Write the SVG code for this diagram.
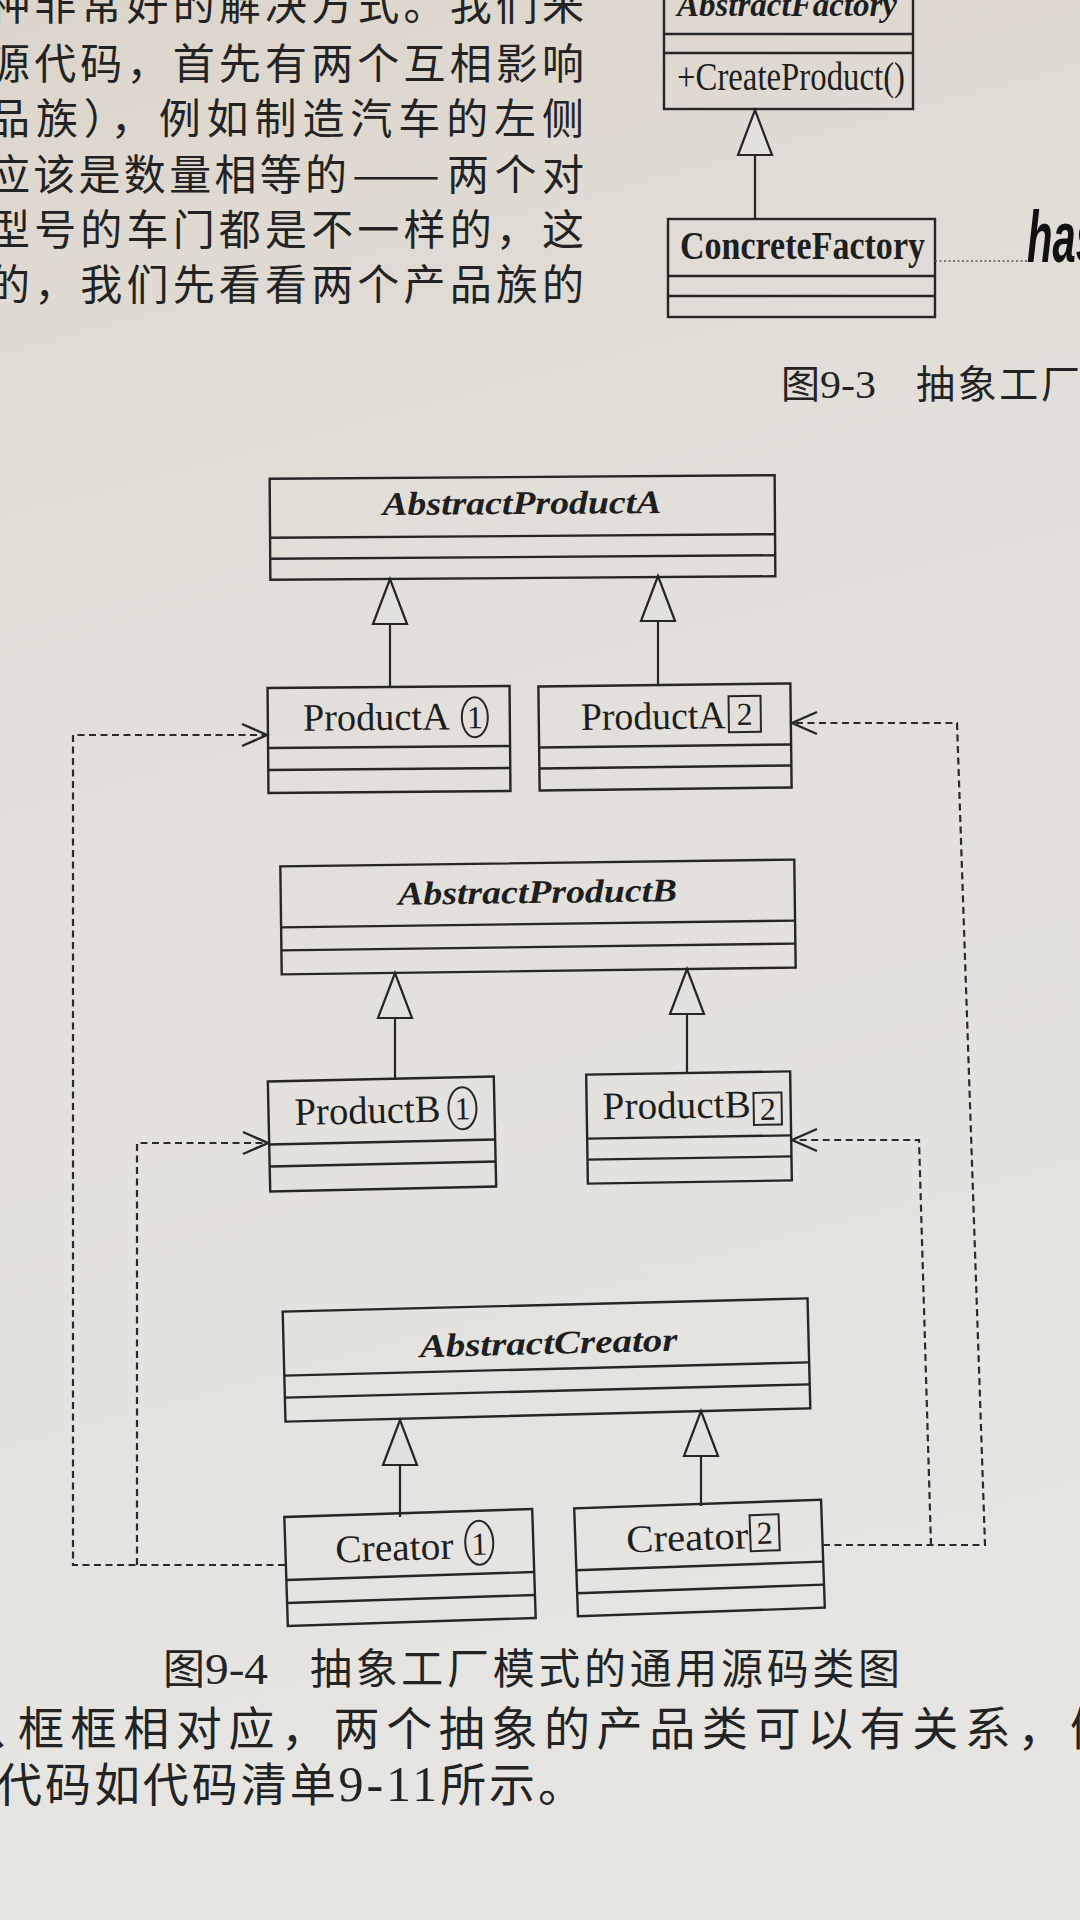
<svg xmlns="http://www.w3.org/2000/svg" width="1080" height="1920" viewBox="0 0 1080 1920">
<defs>
<linearGradient id="paper" x1="0" y1="0" x2="0.15" y2="1">
<stop offset="0" stop-color="#dcd5cb"/>
<stop offset="0.35" stop-color="#e2dfda"/>
<stop offset="1" stop-color="#e6e5e2"/>
</linearGradient>
<marker id="tri" markerUnits="userSpaceOnUse" markerWidth="50" markerHeight="40" viewBox="-2 -2 50 40" refX="45" refY="17" orient="auto">
<path d="M0,0 L45,17 L0,34 Z" fill="#e3e1dd" stroke="#262626" stroke-width="2.2" stroke-linejoin="miter"/>
</marker>
<marker id="open" markerUnits="userSpaceOnUse" markerWidth="30" markerHeight="26" viewBox="-2 -2 30 26" refX="25" refY="11" orient="auto">
<path d="M0,0 L25,11 L0,22" fill="none" stroke="#262626" stroke-width="2.4"/>
</marker>
<style>
.box{fill:none;stroke:#262626;stroke-width:2.4}
.abs{font-family:"Liberation Serif",serif;font-weight:bold;font-style:italic;font-size:33px;fill:#1e1e1e}
.cls{font-family:"Liberation Serif",serif;font-size:39px;fill:#1e1e1e}
.num{font-family:"Liberation Serif",serif;font-size:32px;fill:#1e1e1e;text-anchor:middle}
.mark{fill:none;stroke:#262626;stroke-width:2}
.gen{fill:none;stroke:#262626;stroke-width:2.2}
.dep{fill:none;stroke:#2a2a2a;stroke-width:2.2;stroke-dasharray:7 4.5}
.body{font-family:"Noto Sans CJK SC",sans-serif;fill:#232323}
.ser{font-family:"Liberation Serif",serif}
</style>
</defs>
<rect x="0" y="0" width="1080" height="1920" fill="url(#paper)"/>

<g id="body-text-top" class="body" font-size="42">
<text x="-12" y="20" textLength="596" lengthAdjust="spacing">种非常好的解决方式。我们来</text>
<text x="-12" y="79" textLength="596" lengthAdjust="spacing">源代码，首先有两个互相影响</text>
<text x="-12" y="134" textLength="596" lengthAdjust="spacing">品族），例如制造汽车的左侧</text>
<text x="-12" y="190" textLength="359" lengthAdjust="spacing">应该是数量相等的</text>
<text x="352" y="190" textLength="88" lengthAdjust="spacingAndGlyphs">——</text>
<text x="447" y="190" textLength="137" lengthAdjust="spacing">两个对</text>
<text x="-12" y="245" textLength="596" lengthAdjust="spacing">型号的车门都是不一样的，这</text>
<text x="-12" y="300" textLength="596" lengthAdjust="spacing">的，我们先看看两个产品族的</text>
</g>

<g id="AbstractFactory">
<rect class="box" x="664" y="-20" width="249" height="129"/>
<line class="box" x1="664" y1="34" x2="913" y2="34"/>
<line class="box" x1="664" y1="53" x2="913" y2="53"/>
<text class="abs" x="677" y="16" font-size="30" textLength="220" lengthAdjust="spacingAndGlyphs">AbstractFactory</text>
<text class="cls" x="677" y="90" font-size="33" textLength="228" lengthAdjust="spacingAndGlyphs">+CreateProduct()</text>
</g>

<g id="ConcreteFactory">
<rect class="box" x="668" y="219" width="267" height="98"/>
<line class="box" x1="668" y1="276" x2="935" y2="276"/>
<line class="box" x1="668" y1="296" x2="935" y2="296"/>
<text class="cls" x="680" y="259" font-size="26" font-weight="bold" textLength="245" lengthAdjust="spacingAndGlyphs">ConcreteFactory</text>
</g>

<g id="handwriting">
<line x1="935" y1="261" x2="1027" y2="261" stroke="#555" stroke-width="1.6" stroke-dasharray="2 2.5"/>
<text x="1027" y="262" font-family="Liberation Sans, sans-serif" font-style="italic" font-weight="bold" font-size="72" fill="#111" textLength="72" lengthAdjust="spacingAndGlyphs">has</text>
</g>

<g id="caption-9-3" class="body">
<text x="781" y="398" font-size="39">图</text>
<text class="ser" x="820" y="398" font-size="40" textLength="56" lengthAdjust="spacingAndGlyphs">9-3</text>
<text x="916" y="398" font-size="39" textLength="164" lengthAdjust="spacing">抽象工厂</text>
</g>

<g id="AbstractProductA" transform="rotate(-0.4 522 528)">
<rect class="box" x="270" y="477" width="505" height="101"/>
<line class="box" x1="270" y1="536" x2="775" y2="536"/>
<line class="box" x1="270" y1="557" x2="775" y2="557"/>
<text class="abs" x="522" y="514" text-anchor="middle" textLength="279" lengthAdjust="spacingAndGlyphs">AbstractProductA</text>
</g>

<g id="ProductA1" transform="rotate(-0.5 389 739)">
<rect class="box" x="268" y="687" width="242" height="105"/>
<line class="box" x1="268" y1="747" x2="510" y2="747"/>
<line class="box" x1="268" y1="769" x2="510" y2="769"/>
<text class="cls" x="303" y="730" textLength="147" lengthAdjust="spacingAndGlyphs">ProductA</text>
<ellipse class="mark" cx="475" cy="718" rx="13" ry="20"/>
<text class="num" x="475" y="729">1</text>
</g>

<g id="ProductA2" transform="rotate(-0.7 665 737)">
<rect class="box" x="539" y="685" width="252" height="104"/>
<line class="box" x1="539" y1="746" x2="791" y2="746"/>
<line class="box" x1="539" y1="767" x2="791" y2="767"/>
<text class="cls" x="581" y="729" textLength="145" lengthAdjust="spacingAndGlyphs">ProductA</text>
<rect class="mark" x="729" y="697" width="32" height="36"/>
<text class="num" x="745" y="726">2</text>
</g>

<g id="AbstractProductB" transform="rotate(-0.75 538 917)">
<rect class="box" x="281" y="863" width="514" height="108"/>
<line class="box" x1="281" y1="924" x2="795" y2="924"/>
<line class="box" x1="281" y1="947" x2="795" y2="947"/>
<text class="abs" x="538" y="903" text-anchor="middle" textLength="279" lengthAdjust="spacingAndGlyphs">AbstractProductB</text>
</g>

<g id="ProductB1" transform="rotate(-1.25 382 1134)">
<rect class="box" x="269" y="1079" width="226" height="110"/>
<line class="box" x1="269" y1="1142" x2="495" y2="1142"/>
<line class="box" x1="269" y1="1164" x2="495" y2="1164"/>
<text class="cls" x="295" y="1123" textLength="146" lengthAdjust="spacingAndGlyphs">ProductB</text>
<ellipse class="mark" cx="463" cy="1110" rx="14" ry="21"/>
<text class="num" x="463" y="1121">1</text>
</g>

<g id="ProductB2" transform="rotate(-0.9 689 1128)">
<rect class="box" x="587" y="1073" width="204" height="109"/>
<line class="box" x1="587" y1="1137" x2="791" y2="1137"/>
<line class="box" x1="587" y1="1158" x2="791" y2="1158"/>
<text class="cls" x="603" y="1118" textLength="148" lengthAdjust="spacingAndGlyphs">ProductB</text>
<rect class="mark" x="754" y="1094" width="28" height="32"/>
<text class="num" x="768" y="1121">2</text>
</g>

<g id="AbstractCreator" transform="rotate(-1.45 546 1360)">
<rect class="box" x="284" y="1305" width="525" height="110"/>
<line class="box" x1="284" y1="1369" x2="809" y2="1369"/>
<line class="box" x1="284" y1="1391" x2="809" y2="1391"/>
<text class="abs" x="549" y="1354" text-anchor="middle" textLength="258" lengthAdjust="spacingAndGlyphs">AbstractCreator</text>
</g>

<g id="Creator1" transform="rotate(-1.85 410 1567)">
<rect class="box" x="286" y="1513" width="248" height="109"/>
<line class="box" x1="286" y1="1576" x2="534" y2="1576"/>
<line class="box" x1="286" y1="1599" x2="534" y2="1599"/>
<text class="cls" x="336" y="1560" textLength="118" lengthAdjust="spacingAndGlyphs">Creator</text>
<ellipse class="mark" cx="480" cy="1545" rx="14" ry="22"/>
<text class="num" x="480" y="1557">1</text>
</g>

<g id="Creator2" transform="rotate(-2 699 1558)">
<rect class="box" x="576" y="1504" width="247" height="108"/>
<line class="box" x1="576" y1="1566" x2="823" y2="1566"/>
<line class="box" x1="576" y1="1589" x2="823" y2="1589"/>
<text class="cls" x="627" y="1550" textLength="122" lengthAdjust="spacingAndGlyphs">Creator</text>
<rect class="mark" x="751" y="1517" width="29" height="36"/>
<text class="num" x="765.5" y="1546">2</text>
</g>

<g id="connectors">
<line class="gen" x1="755" y1="219" x2="755" y2="110" marker-end="url(#tri)"/>
<line class="gen" x1="390" y1="687" x2="390" y2="579" marker-end="url(#tri)"/>
<line class="gen" x1="658" y1="685" x2="658" y2="576" marker-end="url(#tri)"/>
<line class="gen" x1="395" y1="1080" x2="395" y2="973" marker-end="url(#tri)"/>
<line class="gen" x1="687" y1="1073" x2="687" y2="969" marker-end="url(#tri)"/>
<line class="gen" x1="400" y1="1517" x2="400" y2="1420" marker-end="url(#tri)"/>
<line class="gen" x1="701" y1="1506" x2="701" y2="1411" marker-end="url(#tri)"/>
<polyline class="dep" points="285,1565 73,1565 73,735 267,735" marker-end="url(#open)"/>
<polyline class="dep" points="137,1565 137,1143 268,1143" marker-end="url(#open)"/>
<polyline class="dep" points="823,1545 985,1545 957,723 792,723" marker-end="url(#open)"/>
<polyline class="dep" points="931,1545 919,1140 792,1140" marker-end="url(#open)"/>
</g>

<g id="caption-9-4" class="body">
<text x="163" y="1684" font-size="42">图</text>
<text class="ser" x="205" y="1684" font-size="44" textLength="63" lengthAdjust="spacingAndGlyphs">9-4</text>
<text x="310" y="1684" font-size="42" textLength="590" lengthAdjust="spacing">抽象工厂模式的通用源码类图</text>
</g>

<g id="body-text-bottom" class="body" font-size="46">
<text x="-12" y="1745">、</text>
<text x="18" y="1745" textLength="1098" lengthAdjust="spacing">框框相对应，两个抽象的产品类可以有关系，例</text>
<text x="-4" y="1801" textLength="588" lengthAdjust="spacing">代码如代码清单<tspan class="ser" font-size="50">9-11</tspan>所示。</text>
</g>
</svg>
